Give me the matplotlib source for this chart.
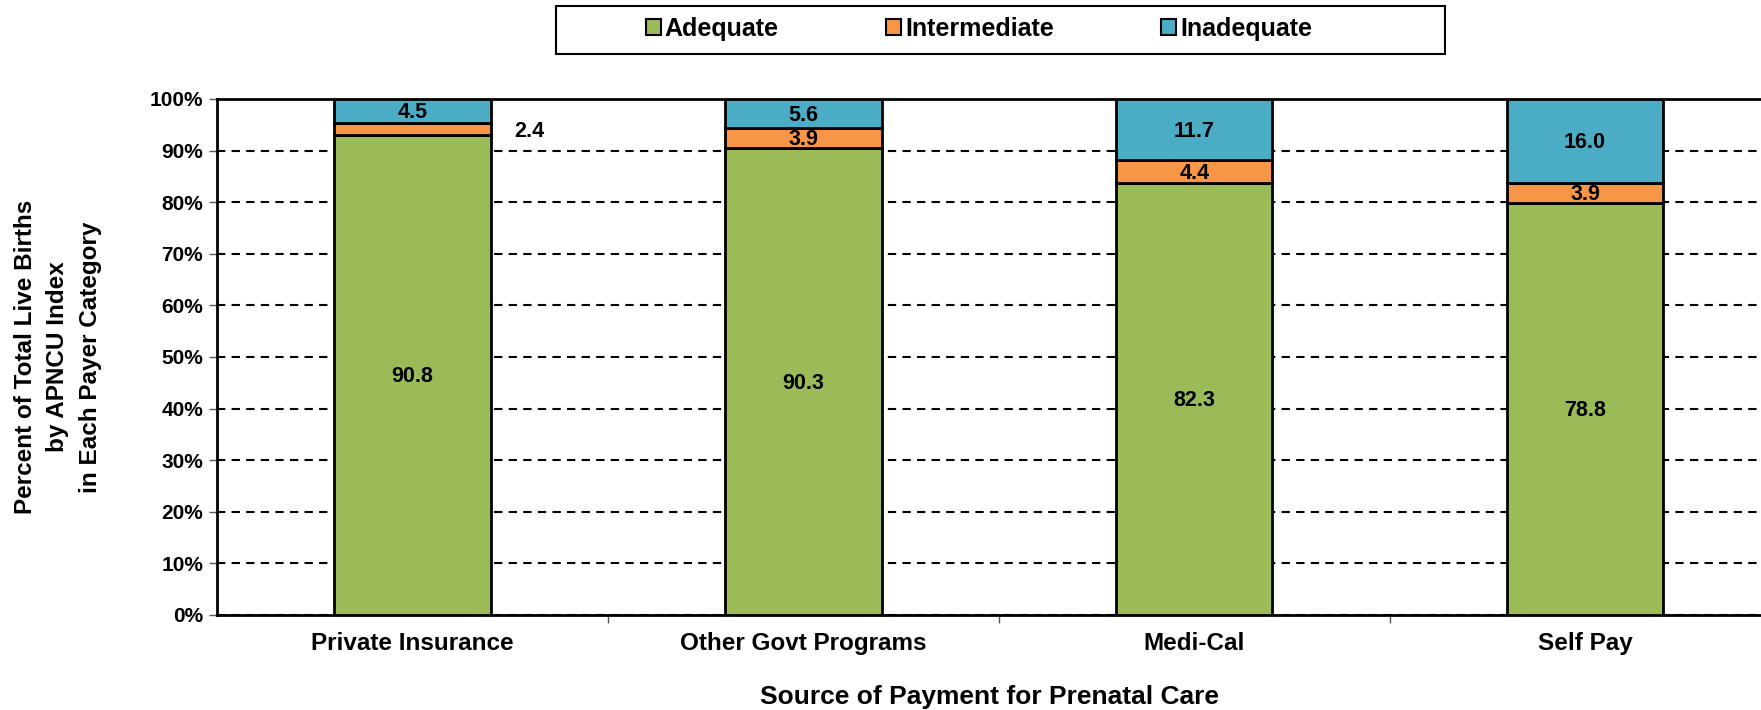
import matplotlib.pyplot as plt
from matplotlib.patches import Rectangle
import numpy as np

# APNCU index by payer category (percent of live births)
categories = ['Private Insurance', 'Other Govt Programs', 'Medi-Cal', 'Self Pay']
adequate = [90.8, 90.3, 82.3, 78.8]
intermediate = [2.4, 3.9, 4.4, 3.9]
inadequate = [4.5, 5.6, 11.7, 16.0]
series_names = ['Adequate', 'Intermediate', 'Inadequate']
colors = ['#9BBB59', '#F79646', '#4BACC6']

plt.rcParams['font.family'] = ['Liberation Sans', 'DejaVu Sans']
plt.rcParams['font.weight'] = 'bold'

W, H = 1761, 710
fig = plt.figure(figsize=(W / 100, H / 100), dpi=100)
ax = fig.add_axes([217 / W, 1 - 615 / H, 1 - 217 / W, 516 / H])

# 100% stacked: normalise each bar to its total
raw = np.array([adequate, intermediate, inadequate])
share = raw / raw.sum(axis=0) * 100
x = np.arange(len(categories))
width = 0.40

bottom = np.zeros(len(categories))
bars = []
for vals, name, col in zip(share, series_names, colors):
    b = ax.bar(x, vals, width, bottom=bottom, color=col, edgecolor='black',
               linewidth=2, label=name, zorder=3)
    bars.append((b, bottom.copy(), vals))
    bottom += vals

# value labels (original values, centred in segments)
for si, (b, bot, vals) in enumerate(bars):
    for i in range(len(categories)):
        txt = f'{raw[si][i]:.1f}'
        yc = bot[i] + vals[i] / 2
        if si == 1 and i == 0:
            # too thin, label sits to the right of the bar
            ax.text(x[i] + 0.30, yc - 0.5, txt, ha='center', va='center',
                    fontsize=15.5, fontweight='bold', zorder=4)
        else:
            ax.text(x[i], yc - 0.3, txt, ha='center', va='center',
                    fontsize=15.5, fontweight='bold', zorder=4)

ax.set_ylim(0, 100)
ax.set_xlim(-0.5, 3.45)
ax.set_yticks(np.arange(0, 101, 10))
ax.set_yticklabels([f'{v}%' for v in range(0, 101, 10)], fontsize=15, fontweight='bold')
ax.yaxis.grid(True, linestyle=(0, (4, 3)), color='black', linewidth=1.5, zorder=0)
ax.set_axisbelow(True)

ax.set_xticks(x)
ax.set_xticklabels(categories, fontsize=17.5, fontweight='bold')
ax.tick_params(axis='x', length=0, pad=12)
ax.set_xticks([0.5, 1.5, 2.5], minor=True)
ax.tick_params(axis='x', which='minor', length=6, width=1, direction='out', color='#555555')
ax.tick_params(axis='y', length=6, width=1, color='#555555', pad=4)

for s in ['left', 'bottom', 'top']:
    ax.spines[s].set_linewidth(2)
ax.spines['right'].set_visible(False)

ax.set_xlabel('Source of Payment for Prenatal Care', fontsize=19, fontweight='bold', labelpad=22)
ax.set_ylabel('Percent of Total Live Births\nby APNCU Index\nin Each Payer Category',
              fontsize=17.5, fontweight='bold', labelpad=34, linespacing=1.55)

# legend entries without frame, box drawn separately (wider than entries)
leg = fig.legend(loc='center', bbox_to_anchor=(979 / W, 1 - 29 / H), ncol=3,
                 frameon=False, fontsize=18,
                 handlelength=0.6, handleheight=0.6, handletextpad=0.15,
                 columnspacing=4.3, borderpad=0, borderaxespad=0)
for h in leg.legend_handles:
    h.set_linewidth(1.5)
fig.patches.append(Rectangle((556 / W, 1 - 54 / H), 889 / W, 48 / H,
                             transform=fig.transFigure, fill=False,
                             edgecolor='black', linewidth=1.5))

fig.savefig('out.png', dpi=100)
